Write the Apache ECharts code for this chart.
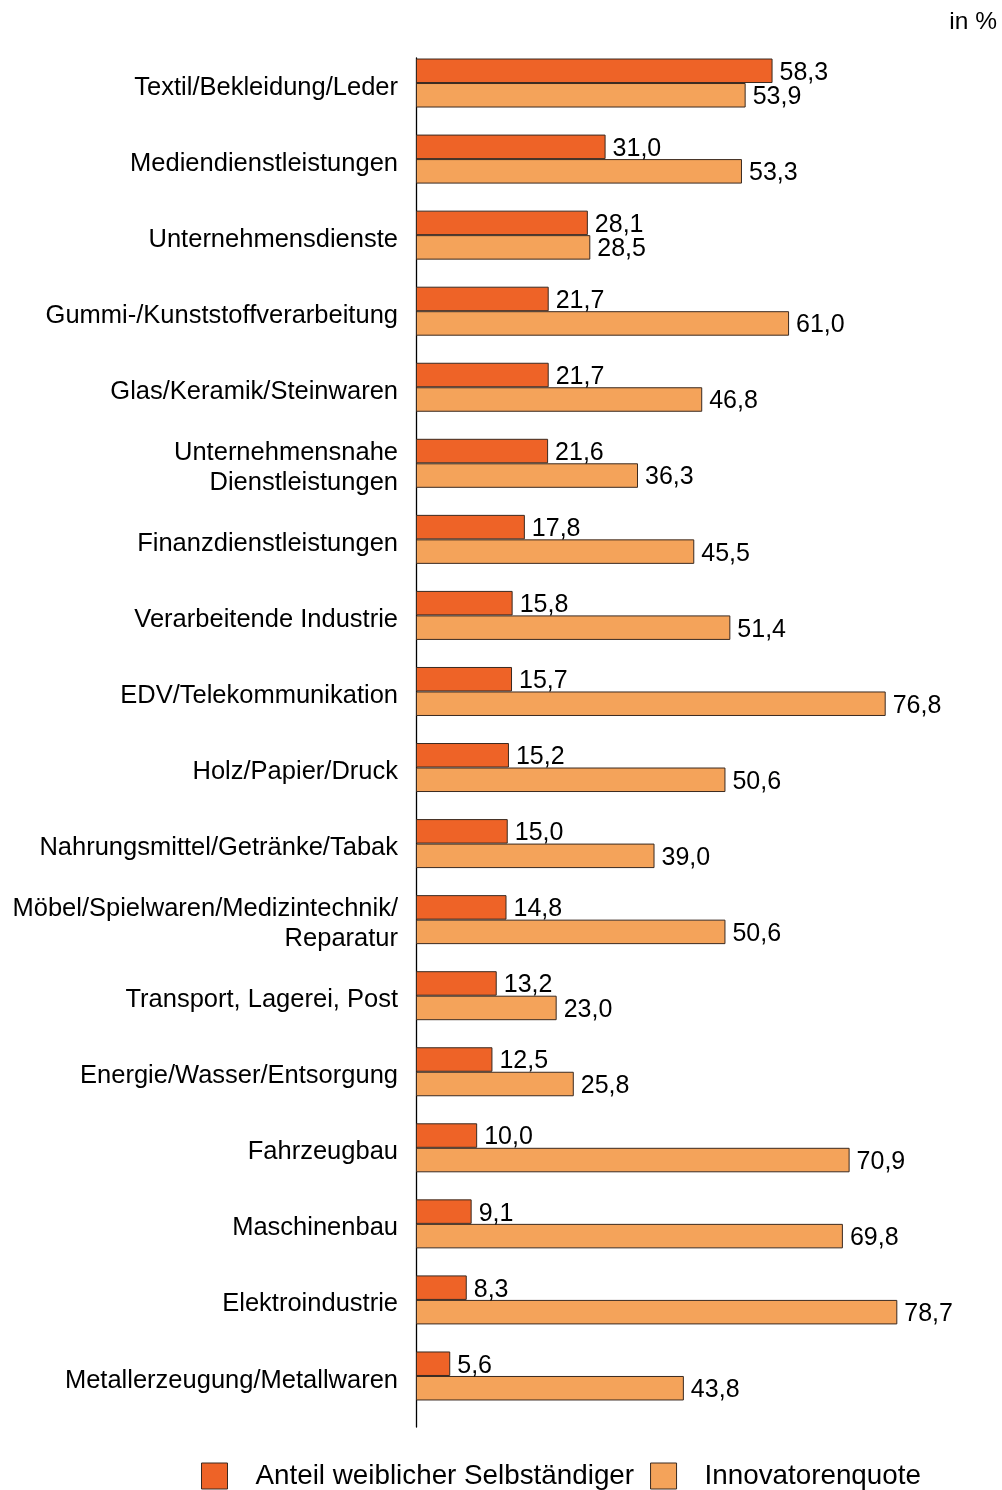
<!doctype html>
<html>
<head>
<meta charset="UTF-8">
<title>Anteil weiblicher Selbständiger und Innovatorenquote</title>
<script src="https://cdn.jsdelivr.net/npm/echarts@6/dist/echarts.min.js"></script>
<style>
  html, body { margin: 0; padding: 0; background: #fff; }
  #main { width: 1002px; height: 1490px; }
</style>
</head>
<body>
<div id="main"></div>
<script>
// Branchen, von oben nach unten
var categories = [
  'Textil/Bekleidung/Leder',
  'Mediendienstleistungen',
  'Unternehmensdienste',
  'Gummi-/Kunststoffverarbeitung',
  'Glas/Keramik/Steinwaren',
  'Unternehmensnahe\nDienstleistungen',
  'Finanzdienstleistungen',
  'Verarbeitende Industrie',
  'EDV/Telekommunikation',
  'Holz/Papier/Druck',
  'Nahrungsmittel/Getränke/Tabak',
  'Möbel/Spielwaren/Medizintechnik/\nReparatur',
  'Transport, Lagerei, Post',
  'Energie/Wasser/Entsorgung',
  'Fahrzeugbau',
  'Maschinenbau',
  'Elektroindustrie',
  'Metallerzeugung/Metallwaren'
];
var anteilFrauen = [58.3, 31.0, 28.1, 21.7, 21.7, 21.6, 17.8, 15.8, 15.7, 15.2, 15.0, 14.8, 13.2, 12.5, 10.0, 9.1, 8.3, 5.6];
var innovatoren = [53.9, 53.3, 28.5, 61.0, 46.8, 36.3, 45.5, 51.4, 76.8, 50.6, 39.0, 50.6, 23.0, 25.8, 70.9, 69.8, 78.7, 43.8];

var FONT = 'Liberation Sans, Arial, sans-serif';

function komma(p) {
  return p.value.toFixed(1).replace('.', ',');
}

var myChart = echarts.init(document.getElementById('main'));

var option = {
  animation: false,
  textStyle: { fontFamily: FONT },
  title: {
    text: 'in %',
    right: 0,
    top: 5,
    textStyle: { fontFamily: FONT, fontSize: 24.5, fontWeight: 'normal', color: '#000' }
  },
  legend: {
    top: 1457,
    left: 196,
    icon: 'rect',
    itemWidth: 26,
    itemHeight: 26,
    itemGap: 16,
    itemStyle: { borderColor: '#3a2a20', borderWidth: 1 },
    textStyle: { fontFamily: FONT, fontSize: 27.8, color: '#000', padding: [0, 0, 0, 23] },
    data: ['Anteil weiblicher Selbständiger', 'Innovatorenquote']
  },
  grid: [
    // Balken
    { left: 416, width: 581, top: 45, height: 1369 },
    // nur für die senkrechte Achsenlinie
    { left: 416, width: 581, top: 58, height: 1369 },
    // nur für die Branchennamen, etwas tiefer gesetzt
    { left: 416, width: 581, top: 49.5, height: 1369 }
  ],
  xAxis: [
    { type: 'value', gridIndex: 0, min: 0, max: 95, show: false },
    { type: 'value', gridIndex: 1, min: 0, max: 95, show: false },
    { type: 'value', gridIndex: 2, min: 0, max: 95, show: false }
  ],
  yAxis: [
    {
      type: 'category',
      gridIndex: 0,
      inverse: true,
      data: categories,
      axisLine: { show: false },
      axisTick: { show: false },
      axisLabel: { show: false }
    },
    {
      type: 'category',
      gridIndex: 1,
      data: categories,
      axisLine: { lineStyle: { color: '#000', width: 1.3 } },
      axisTick: { show: false },
      axisLabel: { show: false }
    },
    {
      type: 'category',
      gridIndex: 2,
      inverse: true,
      data: categories,
      axisLine: { show: false },
      axisTick: { show: false },
      axisLabel: {
        margin: 18,
        fontFamily: FONT,
        fontSize: 25.5,
        color: '#000',
        lineHeight: 30
      }
    }
  ],
  series: [
    {
      name: 'Anteil weiblicher Selbständiger',
      type: 'bar',
      data: anteilFrauen,
      barWidth: 24.5,
      barGap: '0%',
      itemStyle: { color: '#EE6327', borderColor: '#3a2a20', borderWidth: 1 },
      label: {
        show: true,
        position: 'right',
        distance: 7,
        offset: [0, 2],
        fontFamily: FONT,
        fontSize: 25,
        color: '#000',
        formatter: komma
      }
    },
    {
      name: 'Innovatorenquote',
      type: 'bar',
      data: innovatoren,
      barWidth: 24.5,
      itemStyle: { color: '#F4A35A', borderColor: '#3a2a20', borderWidth: 1 },
      label: {
        show: true,
        position: 'right',
        distance: 7,
        offset: [0, 2],
        fontFamily: FONT,
        fontSize: 25,
        color: '#000',
        formatter: komma
      }
    }
  ]
};

myChart.setOption(option);
</script>
</body>
</html>
